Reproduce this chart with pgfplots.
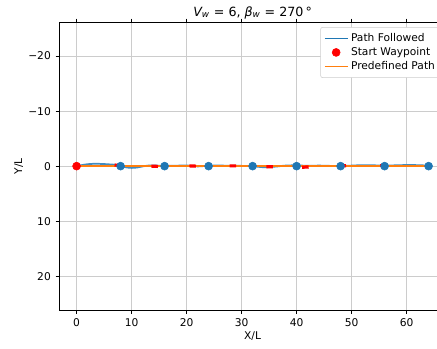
\documentclass[border=0pt]{standalone}
\usepackage{fontspec}
\setmainfont{DejaVu Sans}
\usepackage{pgfplots}
\pgfplotsset{compat=1.18}
\definecolor{mplblue}{HTML}{1F77B4}
\definecolor{mplorange}{HTML}{FF7F0E}
\begin{document}
\begin{tikzpicture}[font=\fontsize{8pt}{9.6pt}\selectfont]
\begin{axis}[
  scale only axis,
  width=290.4pt, height=216.2pt,
  xmin=-3.2, xmax=67.2, ymin=-26.2, ymax=26.2,
  y dir=reverse,
  xtick={0,10,20,30,40,50,60},
  ytick={-20,-10,0,10,20},
  yticklabels={−20,−10,0,10,20},
  /pgf/number format/assume math mode=true,
  grid=major,
  major grid style={gray!40, line width=0.6pt},
  tick align=outside,
  major tick length=2.6pt,
  tick style={black, line width=0.6pt},
  axis line style={line width=0.6pt},
  xlabel={X/L}, ylabel={Y/L},
  xlabel style={yshift=3pt},
  ylabel style={yshift=-3pt},
  title={\fontsize{9.5pt}{11pt}\selectfont\itshape V\textsubscript{\itshape w}\upshape\ = 6, \itshape β\textsubscript{\itshape w}\upshape\ = 270\,°},
  title style={yshift=-7.5pt},
  legend style={at={(1,1)}, anchor=north east, xshift=-3.75pt, yshift=-3.75pt,
    draw=gray!40, rounded corners=1.5pt, font=\fontsize{8pt}{9.6pt}\selectfont, row sep=-1pt, inner sep=2.5pt},
  legend cell align=left,
  clip=true,
]
\addplot[mplblue!85, line width=1.3pt, smooth, tension=0.5,
  legend image code/.code={\draw[mplblue, line width=1.1pt] (0cm,0cm) -- (0.6cm,0cm);}] coordinates {
(0,0) (1,-0.2) (2,-0.35) (3,-0.42) (4,-0.42) (5,-0.38) (6,-0.32) (7,-0.25) (8,-0.05)
(9,0.22) (10,0.32) (11,0.25) (12,0.05) (13,-0.1) (14,-0.12) (16,-0.05) (18,-0.08)
(20,-0.12) (22,0.05) (24,-0.08) (26,-0.1) (28,-0.08) (30,-0.05) (32,0) (34,0.2)
(36,0.1) (38,-0.1) (40,-0.15) (42,-0.05) (44,-0.1) (46,-0.05) (48,0) (50,-0.1)
(52,-0.18) (54,-0.15) (56,-0.1) (58,-0.15) (60,-0.2) (62,-0.18) (64,-0.1)
};
\addlegendentry{Path Followed}
\addplot[only marks, mark=*, mark size=3pt, red, mark options={draw=red, fill=red}] coordinates {(0,0)};
\addlegendentry{Start Waypoint}
\addplot[mplorange, line width=1.2pt] coordinates {(0,0) (64,0)};
\addlegendentry{Predefined Path}
\addplot[only marks, mark=*, mark size=3pt, mark options={draw=mplblue, fill=mplblue}, forget plot] coordinates {
(8,0) (16,0) (24,0) (32,0) (40,0) (48,0) (56,0) (64,0)};
\addplot[red, line width=2.4pt, forget plot] coordinates {
(6.9,-0.2) (8.1,-0.1)

(13.6,0) (14.8,0.05)

(20.5,-0.05) (21.7,0)

(27.8,-0.05) (29.0,-0.05)

(34.5,0.1) (35.7,0.1)

(41.0,0.2) (42.2,0.15)

(47.8,-0.1) (49.0,-0.05)

(55.2,-0.1) (56.4,-0.05)
};
\end{axis}
\pgfresetboundingbox
\path (current axis.south west) ++(-44.25pt,-28.5pt) coordinate (bl);
\path (current axis.north west) ++(283.5pt,16.5pt) coordinate (tr);
\path[use as bounding box] (bl) rectangle (tr);
\end{tikzpicture}
\end{document}
